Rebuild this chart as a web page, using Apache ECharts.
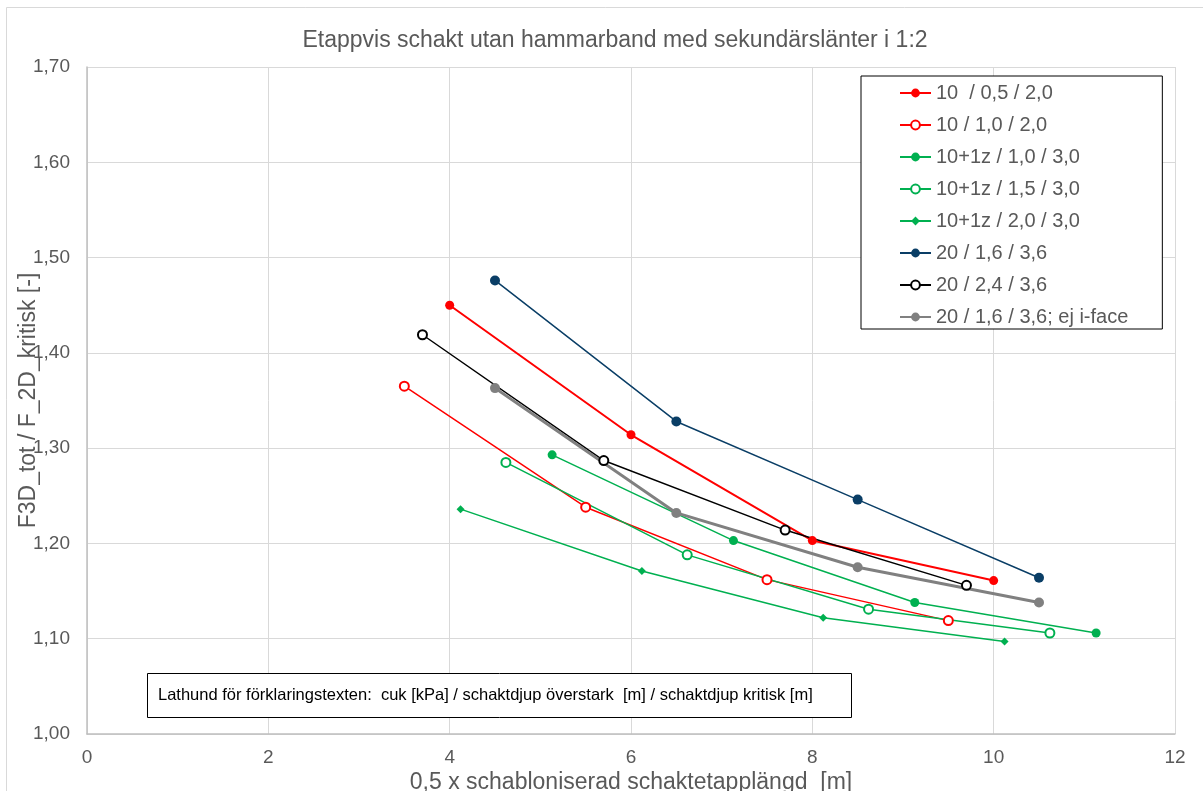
<!DOCTYPE html>
<html>
<head>
<meta charset="utf-8">
<script src="https://cdn.jsdelivr.net/npm/echarts@6/dist/echarts.min.js"></script>
<style>
  html, body { margin: 0; padding: 0; background: #fff; }
  #main { width: 1203px; height: 791px; }
</style>
</head>
<body>
<div id="main"></div>
<script>
// series names (legend)
const names = [
  "10  / 0,5 / 2,0",
  "10 / 1,0 / 2,0",
  "10+1z / 1,0 / 3,0",
  "10+1z / 1,5 / 3,0",
  "10+1z / 2,0 / 3,0",
  "20 / 1,6 / 3,6",
  "20 / 2,4 / 3,6",
  "20 / 1,6 / 3,6; ej i-face"
];

// x = 0,5 x schabloniserad schaktetapplängd [m], y = F3D_tot / F_2D_kritisk
const xRed1 = [4.0, 6.0, 8.0, 10.0];
const yRed1 = [1.450, 1.314, 1.203, 1.161];

const xRed2 = [3.5, 5.5, 7.5, 9.5];
const yRed2 = [1.365, 1.238, 1.162, 1.119];

const xGreen1 = [5.13, 7.13, 9.13, 11.13];
const yGreen1 = [1.293, 1.203, 1.138, 1.106];

const xGreen2 = [4.62, 6.62, 8.62, 10.62];
const yGreen2 = [1.285, 1.188, 1.131, 1.106];

const xGreen3 = [4.12, 6.12, 8.12, 10.12];
const yGreen3 = [1.236, 1.171, 1.122, 1.097];

const xNavy = [4.5, 6.5, 8.5, 10.5];
const yNavy = [1.476, 1.328, 1.246, 1.164];

const xBlack = [3.7, 5.7, 7.7, 9.7];
const yBlack = [1.419, 1.287, 1.214, 1.156];

const xGray = [4.5, 6.5, 8.5, 10.5];
const yGray = [1.363, 1.232, 1.175, 1.138];

const pairs = (xs, ys) => xs.map((x, i) => [x, ys[i]]);

const font = "'Liberation Sans', Arial, sans-serif";
const txt = "#595959";

function line(name, data, color, symbol, size, width) {
  return {
    name: name,
    type: "line",
    data: data,
    symbol: symbol,
    symbolSize: size,
    color: color,
    lineStyle: { color: color, width: width },
    itemStyle: { color: color, borderColor: color, borderWidth: symbol === "emptyCircle" ? 1.5 : 0 },
    emphasis: { disabled: true },
    z: 3
  };
}

let myChart = echarts.init(document.getElementById("main"));
myChart.setOption({
  animation: false,
  backgroundColor: "#fff",
  textStyle: { fontFamily: font },
  title: {
    text: "Etappvis schakt utan hammarband med sekundärslänter i 1:2",
    left: 610,
    textAlign: "center",
    top: 24,
    textStyle: { color: txt, fontSize: 23, fontWeight: "normal", fontFamily: font }
  },
  legend: {
    orient: "vertical",
    left: 861,
    top: 76,
    padding: [7, 34, 2, 38],
    itemGap: 12,
    itemWidth: 31,
    itemHeight: 11,
    borderColor: "#000",
    borderWidth: 1,
    backgroundColor: "#fff",
    textStyle: { color: txt, fontSize: 20, fontFamily: font },
    data: names
  },
  grid: { left: 87, right: 28, top: 67, bottom: 57, containLabel: false, outerBoundsMode: "none" },
  xAxis: {
    type: "value",
    min: 0,
    max: 12,
    interval: 2,
    name: "0,5 x schabloniserad schaktetapplängd  [m]",
    nameLocation: "middle",
    nameGap: 37,
    nameMoveOverlap: false,
    nameTextStyle: { color: txt, fontSize: 23, fontFamily: font },
    axisLine: { show: true, onZero: false, lineStyle: { color: "#BFBFBF", width: 1.5 } },
    axisTick: { show: false },
    axisLabel: { color: txt, fontSize: 19, margin: 14, fontFamily: font },
    splitLine: { show: true, lineStyle: { color: "#D9D9D9", width: 1 } }
  },
  yAxis: {
    type: "value",
    min: 1.0,
    max: 1.7,
    interval: 0.1,
    name: "F3D_tot / F_2D_kritisk [-]",
    nameLocation: "middle",
    nameGap: 47,
    nameMoveOverlap: false,
    nameTextStyle: { color: txt, fontSize: 23, fontFamily: font },
    axisLine: { show: true, lineStyle: { color: "#BFBFBF", width: 1.5 } },
    axisTick: { show: false },
    axisLabel: {
      color: txt, fontSize: 19, margin: 17, fontFamily: font,
      formatter: v => v.toFixed(2).replace(".", ",")
    },
    splitLine: { show: true, lineStyle: { color: "#D9D9D9", width: 1 } }
  },
  graphic: [
    {
      type: "rect",
      shape: { x: 6.5, y: 7.5, width: 1300, height: 900 },
      style: { fill: "none", stroke: "#D9D9D9", lineWidth: 1 },
      silent: true,
      z: -1
    },
    {
      type: "rect",
      shape: { x: 147.5, y: 673.5, width: 704, height: 44 },
      style: { fill: "#fff", stroke: "#000", lineWidth: 1 },
      z: 10
    },
    {
      type: "text",
      x: 158, y: 695,
      style: {
        text: "Lathund för förklaringstexten:  cuk [kPa] / schaktdjup överstark  [m] / schaktdjup kritisk [m]",
        fill: "#000",
        font: "16.5px " + font,
        verticalAlign: "middle"
      },
      z: 11
    }
  ],
  series: [
    line(names[0], pairs(xRed1, yRed1), "#FF0000", "circle", 9, 2),
    line(names[1], pairs(xRed2, yRed2), "#FF0000", "emptyCircle", 9, 1.5),
    line(names[2], pairs(xGreen1, yGreen1), "#00B050", "circle", 9, 1.5),
    line(names[3], pairs(xGreen2, yGreen2), "#00B050", "emptyCircle", 9, 1.5),
    line(names[4], pairs(xGreen3, yGreen3), "#00B050", "diamond", 8, 1.5),
    line(names[5], pairs(xNavy, yNavy), "#0A3E66", "circle", 10, 1.5),
    line(names[6], pairs(xBlack, yBlack), "#000000", "emptyCircle", 9, 1.5),
    line(names[7], pairs(xGray, yGray), "#808080", "circle", 10, 3)
  ]
});
</script>
</body>
</html>
